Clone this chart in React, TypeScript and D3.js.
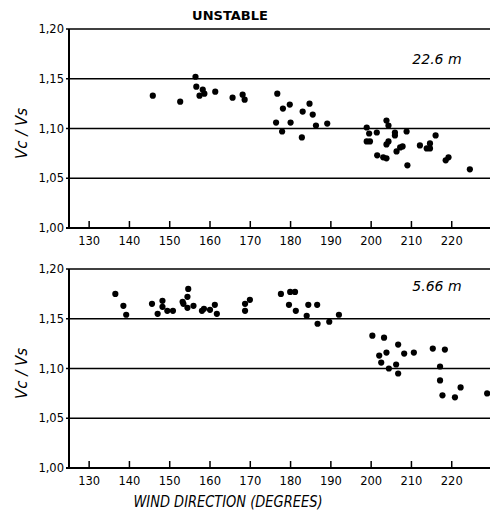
import React from 'react';
import { scaleLinear } from 'd3';

// wind direction (deg) and Vc/Vs ratio, 22.6 m level
const upperDir = [
  145.8, 152.6, 156.4, 156.6, 157.4, 158.2, 158.6, 161.3, 165.6, 168.1, 168.6,
  176.7, 178.1, 179.8, 176.4, 180.0, 177.9, 183.0, 184.7, 185.5, 182.8, 186.3,
  189.1, 198.9, 199.5, 201.4, 203.8, 204.3, 205.9, 205.9, 208.8, 198.9, 199.7,
  203.8, 204.3, 201.5, 203.0, 203.8, 206.3, 207.2, 207.8, 209.0, 212.1, 213.8,
  214.6, 214.6, 216.0, 218.5, 219.2, 224.5,
];
const upperRatio = [
  1.133, 1.127, 1.152, 1.142, 1.133, 1.139, 1.135, 1.137, 1.131, 1.134, 1.129,
  1.135, 1.12, 1.124, 1.106, 1.106, 1.097, 1.117, 1.125, 1.114, 1.091, 1.103,
  1.105, 1.101, 1.095, 1.096, 1.108, 1.103, 1.096, 1.093, 1.097, 1.087, 1.087,
  1.084, 1.087, 1.073, 1.071, 1.07, 1.077, 1.081, 1.082, 1.063, 1.083, 1.08,
  1.08, 1.085, 1.093, 1.068, 1.071, 1.059,
];

// 5.66 m level
const lowerDir = [
  136.5, 138.5, 139.2, 145.6, 147.0, 148.2, 148.2, 149.4, 150.8, 153.2, 153.4,
  154.6, 154.4, 154.4, 155.9, 158.0, 158.5, 160.0, 161.2, 161.7, 168.7, 168.7,
  169.9, 177.6, 179.9, 181.1, 179.6, 181.3, 184.4, 186.6, 184.0, 186.7, 189.6,
  192.0, 200.3, 203.2, 206.7, 202.0, 203.8, 208.2, 210.6, 202.5, 204.4, 206.2,
  206.7, 215.3, 218.3, 217.1, 217.1, 217.7, 220.8, 222.2, 228.8,
];
const lowerRatio = [
  1.175, 1.163, 1.154, 1.165, 1.155, 1.168, 1.162, 1.158, 1.158, 1.167, 1.165,
  1.18, 1.172, 1.161, 1.163, 1.158, 1.16, 1.159, 1.164, 1.155, 1.158, 1.165,
  1.169, 1.175, 1.177, 1.177, 1.164, 1.158, 1.164, 1.164, 1.153, 1.145, 1.147,
  1.154, 1.133, 1.131, 1.124, 1.113, 1.116, 1.115, 1.116, 1.106, 1.1, 1.104,
  1.095, 1.12, 1.119, 1.102, 1.088, 1.073, 1.071, 1.081, 1.075,
];

const xTicks = [130, 140, 150, 160, 170, 180, 190, 200, 210, 220];
const yTicks = [1.0, 1.05, 1.1, 1.15, 1.2];

const W = 490;
const H = 511;
const left = 69;
const font = '"DejaVu Sans", Verdana, sans-serif';

const x = scaleLinear().domain([125, 229.5]).range([left, W]);

function Panel({ top, bottom, dir, ratio, label, labelY }) {
  const y = scaleLinear().domain([1.0, 1.2]).range([bottom, top]);
  return (
    <g>
      {/* grid lines */}
      {yTicks.map(t => (
        <g key={t}>
          <line x1={left - 3} x2={W} y1={y(t)} y2={y(t)} stroke="#000" strokeWidth={t === 1.0 ? 2 : 1.5} />
          <text x={left - 5} y={y(t) + 4} textAnchor="end" fontSize={11.5} fontFamily={font}>
            {t.toFixed(2).replace('.', ',')}
          </text>
        </g>
      ))}
      <line x1={left} x2={left} y1={top} y2={bottom + 1} stroke="#000" strokeWidth={2} />
      {xTicks.map(t => (
        <g key={t}>
          <line x1={x(t)} x2={x(t)} y1={bottom} y2={bottom - 7} stroke="#000" strokeWidth={1.5} />
          <text x={x(t)} y={bottom + 17} textAnchor="middle" fontSize={11.5} fontFamily={font}>
            {t}
          </text>
        </g>
      ))}
      {dir.map((d, i) => (
        <circle key={i} cx={x(d)} cy={y(ratio[i])} r={3.1} fill="#000" />
      ))}
      <text x={437} y={labelY} textAnchor="middle" fontSize={14} fontStyle="italic" fontFamily={font}>
        {label}
      </text>
      <text
        transform={`translate(27,${(top + bottom) / 2 + 5}) rotate(-90)`}
        textAnchor="middle"
        fontSize={15}
        fontStyle="italic"
        fontFamily={font}
      >
        Vc / Vs
      </text>
    </g>
  );
}

export default function App() {
  return (
    <svg width={W} height={H} style={{ position: 'absolute', left: 0, top: 0, background: '#fff' }}>
      <text x={230} y={20} textAnchor="middle" fontSize={13} fontWeight="bold" fontFamily={font}>
        UNSTABLE
      </text>
      <Panel top={29} bottom={228} dir={upperDir} ratio={upperRatio} label="22.6 m" labelY={64} />
      <Panel top={269} bottom={468} dir={lowerDir} ratio={lowerRatio} label="5.66 m" labelY={291} />
      <text
        x={228}
        y={507}
        textAnchor="middle"
        fontSize={15}
        fontStyle="italic"
        fontFamily={font}
        textLength={189}
        lengthAdjust="spacingAndGlyphs"
      >
        WIND DIRECTION (DEGREES)
      </text>
    </svg>
  );
}
